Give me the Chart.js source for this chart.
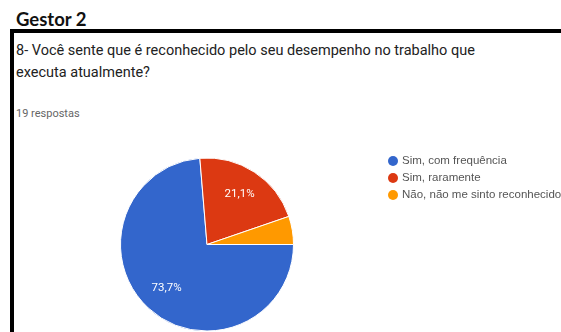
<!DOCTYPE html>
<html>
<head>
<meta charset="utf-8">
<script src="https://cdn.jsdelivr.net/npm/chart.js@4"></script>
<style>
  html, body { margin: 0; padding: 0; background: #fff; }
  body { width: 561px; height: 332px; position: relative; overflow: hidden; font-family: Roboto, Arial, sans-serif; }
  #titulo { position: absolute; left: 16px; top: 8px; font-family: Lato, "Open Sans", sans-serif; font-weight: bold; font-size: 18.5px; color: #111; }
  #caixa { position: absolute; left: 10px; top: 29px; width: 560px; height: 320px; border-left: 4px solid #000; border-top: 4px solid #000; }
  #pergunta { position: absolute; left: 16px; top: 40px; width: 490px; font-size: 14.5px; line-height: 22px; color: #222; }
  #respostas { position: absolute; left: 16px; top: 107px; font-size: 11px; color: #666; }
  #wrap { position: absolute; left: 0; top: 0; width: 561px; height: 332px; }
</style>
</head>
<body>
<div id="titulo">Gestor 2</div>
<div id="caixa"></div>
<div id="pergunta">8- Você sente que é reconhecido pelo seu desempenho no trabalho que executa atualmente?</div>
<div id="respostas">19 respostas</div>
<div id="wrap"><canvas id="myChart"></canvas></div>
<script>
// respostas do gestor 2
const categorias = ['Sim, com frequência', 'Sim, raramente', 'Não, não me sinto reconhecido'];
const respostas = [14, 4, 1];
const cores = ['#3366cc', '#dc3912', '#ff9900'];

// rótulos de porcentagem dentro das fatias
const rotulos = {
  id: 'rotulos',
  afterDatasetsDraw(chart) {
    const ctx = chart.ctx;
    const meta = chart.getDatasetMeta(0);
    const total = respostas.reduce((a, b) => a + b, 0);
    ctx.save();
    ctx.font = '11.5px Roboto, Arial, sans-serif';
    ctx.fillStyle = '#fff';
    ctx.textAlign = 'center';
    ctx.textBaseline = 'middle';
    meta.data.forEach((arc, i) => {
      const pct = respostas[i] / total * 100;
      if (pct < 10) return;
      const ang = (arc.startAngle + arc.endAngle) / 2;
      const r = arc.outerRadius * 0.69;
      ctx.fillText(pct.toFixed(1).replace('.', ',') + '%', arc.x + Math.cos(ang) * r, arc.y + Math.sin(ang) * r);
    });
    ctx.restore();
  }
};

// legenda à direita
const legenda = {
  id: 'legenda',
  afterDraw(chart) {
    const ctx = chart.ctx;
    ctx.save();
    ctx.font = '11.5px Arial, sans-serif';
    ctx.textBaseline = 'middle';
    chart.data.labels.forEach((lab, i) => {
      const y = 161 + i * 17;
      ctx.fillStyle = cores[i];
      ctx.beginPath();
      ctx.arc(393, y, 5, 0, Math.PI * 2);
      ctx.fill();
      ctx.fillStyle = '#555';
      ctx.fillText(lab, 402, y);
    });
    ctx.restore();
  }
};

const ctx = document.getElementById('myChart');
new Chart(ctx, {
  type: 'pie',
  data: {
    labels: categorias,
    datasets: [{
      data: respostas,
      backgroundColor: cores,
      borderColor: '#fff',
      borderWidth: 1,
    }],
  },
  options: {
    responsive: true,
    maintainAspectRatio: false,
    animation: false,
    rotation: 90,
    layout: { padding: { left: 120, top: 157, right: 267, bottom: 0 } },
    plugins: {
      legend: { display: false },
      tooltip: { enabled: false },
    },
  },
  plugins: [rotulos, legenda],
});
</script>
</body>
</html>
